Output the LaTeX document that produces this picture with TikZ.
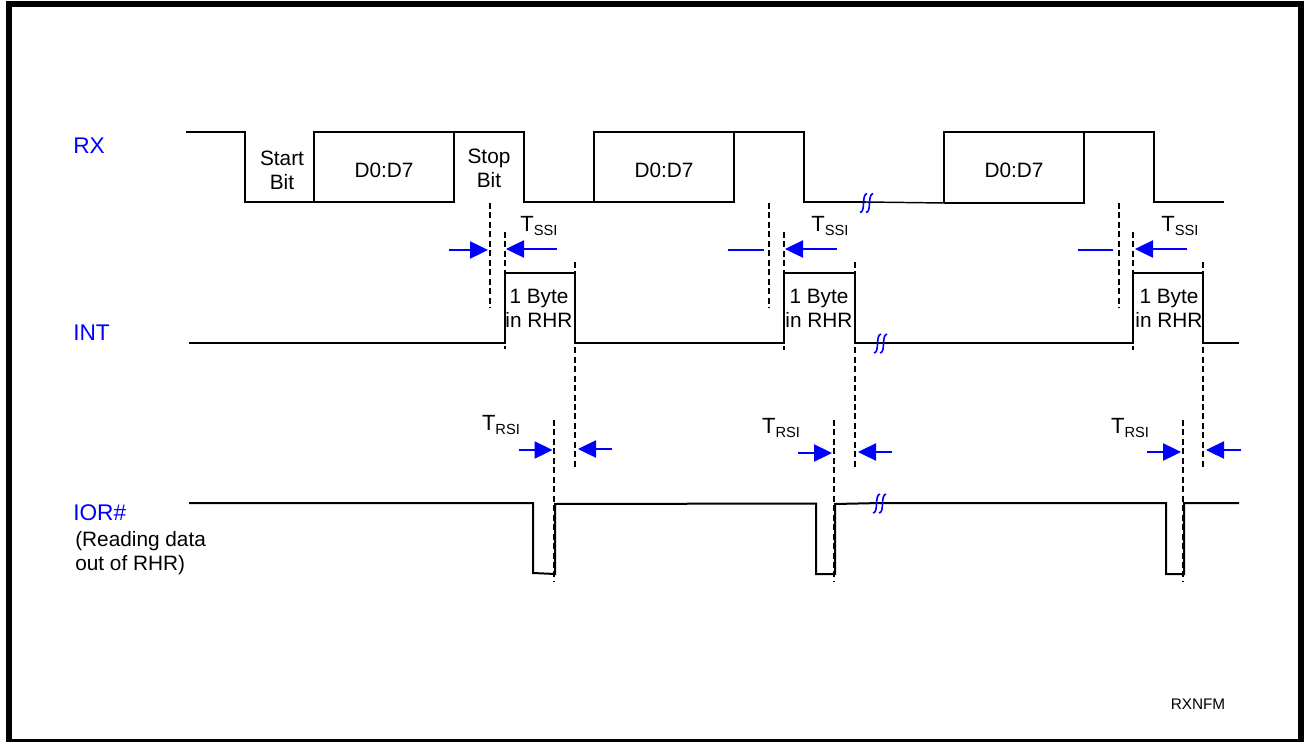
\documentclass[tikz,border=0pt]{standalone}
\usepackage{fontspec}
\setmainfont{Liberation Sans}
\usetikzlibrary{arrows.meta}
\definecolor{sigblue}{RGB}{0,0,255}

\tikzset{
	signal/.style={line width=1.5pt, black},
	timing/.style={line width=1.25pt, black, dashed, dash pattern=on 4.5pt off 2.6pt},
	tarrow/.style={line width=0.8pt, sigblue, -{Triangle[length=13.5pt,width=13pt]}},
	tstub/.style={line width=0.8pt, sigblue},
	signame/.style={text=sigblue, font=\fontsize{17}{20}\selectfont, anchor=west, inner sep=0pt},
	bitlabel/.style={align=center, font=\fontsize{15.6}{18}\selectfont, inner sep=0pt},
	tlabel/.style={font=\fontsize{16.5}{18}\selectfont, inner sep=0pt},
	pics/gapmark/.style={code={
		\draw[sigblue, line width=1.2pt] (-7,9.5) .. controls (-1,9) and (-6,-8) .. (0,-9.5);
		\draw[sigblue, line width=1.2pt] (-1,9.5) .. controls (5,9) and (0,-8) .. (6,-9.5);
	}}
}
\newcommand{\tname}[1]{T\raisebox{-3.6pt}{\fontsize{11}{12}\selectfont #1}}

\begin{document}
\begin{tikzpicture}[x=0.75pt, y=-0.75pt]

		% page and frame
		\useasboundingbox (0,0) rectangle (1304,742);
		\fill[white] (0,0) rectangle (1304,742);
		\draw[black, line width=4.5pt] (9,4) rectangle (1301,741.5);

		% RX line
		\draw[signal] (186,132) -- (245,132) -- (245,202) -- (454,202) -- (454,132) -- (524,132) -- (524,202) -- (734,202) -- (734,132) -- (804,132) -- (804,202) -- (866,202);
		\draw[signal, line width=1.1pt] (866,202) -- (944,203);
		\draw[signal] (944,203) -- (1084,203) -- (1084,132) -- (1154,132) -- (1154,202) -- (1224,202);
		\draw[signal] (314,202) -- (314,132) -- (454,132);
		\draw[signal] (594,202) -- (594,132) -- (734,132);
		\draw[signal] (944,203) -- (944,132) -- (1084,132);

		% INT line
		\draw[signal] (189,343) -- (505,343) -- (505,273) -- (575,273) -- (575,343) -- (784,343) -- (784,273) -- (855,273) -- (855,343) -- (1133,343) -- (1133,273) -- (1203,273) -- (1203,343) -- (1239,343);

		% IOR line
		\draw[signal] (189,503) -- (533,503) -- (533,573) -- (555,574) -- (555,504) -- (816,503.5) -- (816,574) -- (835,574) -- (835,504) -- (881,503) -- (1166,503) -- (1166,574) -- (1184,574) -- (1184,503) -- (1239,503);

		% dashed timing marks
		\draw[timing] (490,203) -- (490,308);
		\draw[timing] (505,232) -- (505,349);
		\draw[timing] (575,262) -- (575,468);
		\draw[timing] (769,203) -- (769,308);
		\draw[timing] (784,232) -- (784,350);
		\draw[timing] (855,262) -- (855,468);
		\draw[timing] (1119,203) -- (1119,308);
		\draw[timing] (1133,232) -- (1133,350);
		\draw[timing] (1203,262) -- (1203,468);
		\draw[timing] (554,420) -- (554,582);
		\draw[timing] (834,420) -- (834,582);
		\draw[timing] (1183,420) -- (1183,582);

		% TSSI arrows
		\draw[tarrow] (449,250) -- (488,250);
		\draw[tarrow] (557,249) -- (506,249);
		\draw[tstub] (728,250) -- (764,250);
		\draw[tarrow] (837,249) -- (785,249);
		\draw[tstub] (1078,250) -- (1113,250);
		\draw[tarrow] (1187,249) -- (1135,249);

		% TRSI arrows
		\draw[tarrow] (519,450) -- (552.5,450);
		\draw[tarrow] (612,449) -- (578,449);
		\draw[tarrow] (798,453) -- (832,453);
		\draw[tarrow] (892,452) -- (858,452);
		\draw[tarrow] (1147,452) -- (1181,452);
		\draw[tarrow] (1241,450) -- (1206,450);

		% breaks in the time axis
		\pic at (867,203) {gapmark};
		\pic at (881,343.5) {gapmark};
		\pic at (880,503.5) {gapmark};

		% signal names
		\node[signame] (rxname) at (73,146) {RX};
		\node[signame] (intname) at (73,333) {INT};
		\node[signame] (iorname) at (73,513) {IOR\#};
		\node[bitlabel, align=left, anchor=north west] (iornote) at (75,531) {(Reading data\\out of RHR)};

		% bit labels
		\node[bitlabel] (startbit) at (282,170) {Start\\Bit};
		\node[bitlabel] (stopbit) at (489,168) {Stop\\Bit};
		\node[bitlabel] (dataa) at (384,170) {D0:D7};
		\node[bitlabel] (datab) at (664,170) {D0:D7};
		\node[bitlabel] (datac) at (1014,170) {D0:D7};

		% RHR labels
		\node[bitlabel] (rhra) at (539,308) {1 Byte\\in RHR};
		\node[bitlabel] (rhrb) at (819,308) {1 Byte\\in RHR};
		\node[bitlabel] (rhrc) at (1169,308) {1 Byte\\in RHR};

		% timing labels
		\node[tlabel] (tssia) at (539,226) {\tname{SSI}};
		\node[tlabel] (tssib) at (830,226) {\tname{SSI}};
		\node[tlabel] (tssic) at (1180,226) {\tname{SSI}};
		\node[tlabel] (trsia) at (501,425) {\tname{RSI}};
		\node[tlabel] (trsib) at (781,428) {\tname{RSI}};
		\node[tlabel] (trsic) at (1130,428) {\tname{RSI}};

		% figure tag
		\node[font=\fontsize{11.5}{14}\selectfont, inner sep=0pt] (figtag) at (1198,704) {RXNFM};

		\end{tikzpicture}
\end{document}
